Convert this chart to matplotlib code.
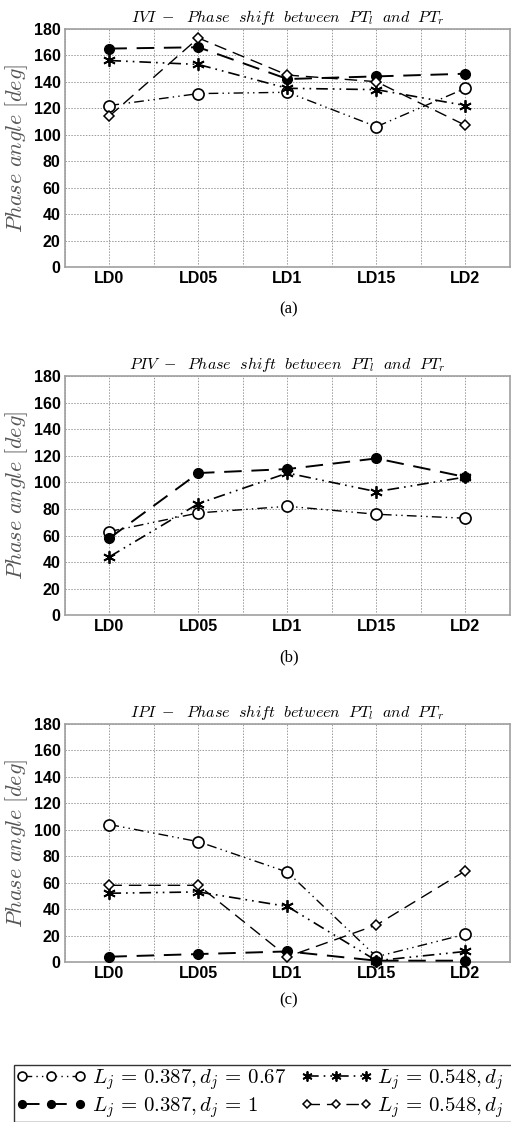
"""phase shift between PT_l and PT_r, three gait modes
"""
import numpy as np
import matplotlib.pyplot as plt

plt.rcParams["mathtext.fontset"] = "cm"

categories = ["LD0", "LD05", "LD1", "LD15", "LD2"]

# IVI
ivi_open = [122, 131, 132, 106, 135]
ivi_filled = [165, 166, 142, 144, 146]
ivi_star = [156, 153, 135, 134, 122]
ivi_diamond = [114, 173, 145, 140, 107]

# PIV (no diamond series)
piv_open = [63, 77, 82, 76, 73]
piv_filled = [58, 107, 110, 118, 104]
piv_star = [44, 84, 107, 93, 104]

# IPI
ipi_open = [104, 91, 68, 4, 21]
ipi_filled = [4, 6, 8, 1, 1]
ipi_star = [52, 53, 42, 1, 8]
ipi_diamond = [58, 58, 4, 28, 69]

panels = [
    ("IVI", "(a)", [ivi_open, ivi_filled, ivi_star, ivi_diamond]),
    ("PIV", "(b)", [piv_open, piv_filled, piv_star, None]),
    ("IPI", "(c)", [ipi_open, ipi_filled, ipi_star, ipi_diamond]),
]

labels = [r"$L_j\,=\,0.387, d_j\,=\,0.67$", r"$L_j\,=\,0.387, d_j\,=\,1$",
    r"$L_j\,=\,0.548, d_j\,=\,0.67$", r"$L_j\,=\,0.548, d_j\,=\,1$"]

DASHDOTDOT = (0, (7, 3, 1, 3, 1, 3))
STYLES = [
    dict(marker="o", mfc="white", mec="black", ms=8, mew=1.2,
        linestyle=DASHDOTDOT, linewidth=1.0),
    dict(marker="o", mfc="black", mec="black", ms=7, mew=1,
        linestyle=(0, (9, 5)), linewidth=1.4),
    dict(marker=(6, 2, 0), mfc="black", mec="black", ms=9, mew=1.3,
        linestyle=DASHDOTDOT, linewidth=1.2),
    dict(marker="D", mfc="white", mec="black", ms=5.5, mew=1.1,
        linestyle=(0, (9, 5)), linewidth=1.0),
]

AX_RECTS = [(0.127, 0.762, 0.871, 0.2124),
    (0.127, 0.4516, 0.871, 0.2133),
    (0.127, 0.1426, 0.871, 0.2121)]
LETTER_Y = [0.724, 0.414, 0.108]

fig = plt.figure(figsize=(5.11, 11.22), dpi=100)
xvals = np.arange(len(categories))
handles = [None] * 4

for i, (mode, letter, series) in enumerate(panels):
    ax = fig.add_axes(AX_RECTS[i])
    for j, yvals in enumerate(series):
        if yvals is None:
            continue
        ln, = ax.plot(xvals, yvals, color="black", clip_on=False, zorder=5, **STYLES[j])
        handles[j] = ln

    ax.set_xlim(-0.5, 4.5)
    ax.set_ylim(0, 180)
    ax.set_xticks(xvals)
    ax.set_xticks(np.arange(-0.5, 4.6, 1), minor=True)
    ax.set_xticklabels(categories)
    ax.set_yticks(np.arange(0, 181, 20))
    ax.tick_params(axis="both", which="both", length=0, pad=3)
    ax.tick_params(axis="x", pad=3)
    for lab in ax.get_xticklabels() + ax.get_yticklabels():
        lab.set_fontfamily("Liberation Sans")
        lab.set_fontweight("bold")
        lab.set_fontsize(11.5)
    ax.grid(True, which="both", color="#9a9a9a", linestyle=(0, (1.5, 1.5)), linewidth=0.7)
    ax.set_axisbelow(True)
    for sp in ax.spines.values():
        sp.set_color("#a0a0a0")
        sp.set_linewidth(1.2)
    ax.set_ylabel(r"$Phase\ angle\ [deg]$", fontsize=16, color="#555555", labelpad=3)
    ax.set_title(r"$%s\ -\ \ Phase\ \ shift\ \ between\ \ PT_l\ \ and\ \ PT_r$" % mode,
        fontsize=11.5, pad=5)

    fig.text(0.565, LETTER_Y[i], letter, ha="center", va="center",
        fontfamily="Liberation Serif", fontsize=12)

leg = fig.legend(handles, labels, loc="lower left", bbox_to_anchor=(0.027, 0.0),
    ncol=2, fontsize=15, frameon=True, fancybox=False, edgecolor="black",
    handlelength=3.4, handletextpad=0.25, columnspacing=0.7, labelspacing=0.15,
    borderpad=0.1, borderaxespad=0.0, numpoints=3, markerscale=0.8)
leg.get_frame().set_linewidth(1.0)

plt.savefig("out.png", dpi=100)
plt.close()
